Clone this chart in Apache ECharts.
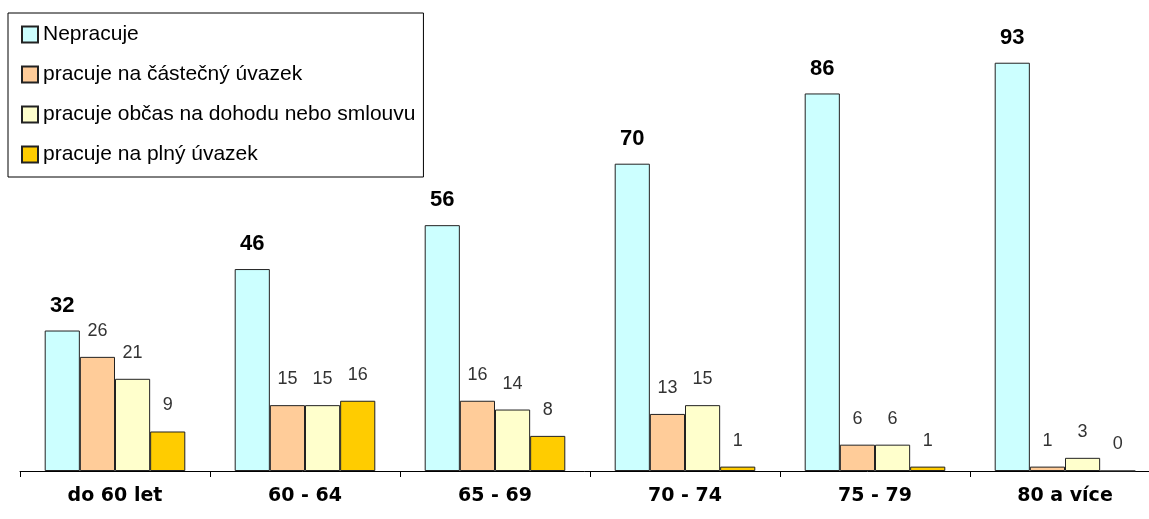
<!DOCTYPE html>
<html>
<head>
<meta charset="utf-8">
<script src="https://cdn.jsdelivr.net/npm/echarts@6/dist/echarts.min.js"></script>
<style>
  html, body { margin: 0; padding: 0; background: #fff; }
  #chart { width: 1149px; height: 519px; }
</style>
</head>
<body>
<div id="chart"></div>
<script>
const categories = ['do 60 let', '60 - 64', '65 - 69', '70 - 74', '75 - 79', '80 a více'];
const seriesNames = ['Nepracuje', 'pracuje na částečný úvazek', 'pracuje občas na dohodu nebo smlouvu', 'pracuje na plný úvazek'];
const nepracuje = [32, 46, 56, 70, 86, 93];
const castecny = [26, 15, 16, 13, 6, 1];
const obcas = [21, 15, 14, 15, 6, 3];
const plny = [9, 16, 8, 1, 1, 0];
const colors = ['#ccffff', '#ffcc99', '#ffffcc', '#ffcc00'];

const chart = echarts.init(document.getElementById('chart'));

const makeSeries = (name, data, color, bold) => ({
  name: name,
  type: 'bar',
  data: data,
  barGap: '0%',
  barCategoryGap: '26%',
  itemStyle: { color: color, borderColor: '#222', borderWidth: 1 },
  label: {
    show: true,
    position: 'top',
    distance: bold ? 14 : 17,
    fontFamily: 'Liberation Sans, Arial, sans-serif',
    fontSize: bold ? 22 : 18,
    fontWeight: bold ? 'bold' : 'normal',
    color: bold ? '#000' : '#333'
  }
});

chart.setOption({
  animation: false,
  grid: { left: 20, width: 1140, top: 32, bottom: 48, outerBoundsMode: 'none' },
  legend: {
    orient: 'vertical',
    left: 8,
    top: 13,
    padding: [11, 8, 12, 13],
    itemWidth: 16,
    itemHeight: 16,
    itemGap: 19,
    icon: 'rect',
    borderColor: '#000',
    borderWidth: 1,
    textStyle: {
      fontFamily: 'Liberation Sans, Arial, sans-serif',
      fontSize: 21,
      color: '#000'
    },
    data: seriesNames
  },
  xAxis: {
    type: 'category',
    data: categories,
    axisLine: { lineStyle: { color: '#000', width: 1 } },
    axisTick: { show: true, length: 6, inside: false, lineStyle: { color: '#000' } },
    axisLabel: {
      margin: 16,
      fontFamily: 'DejaVu Sans, sans-serif',
      fontSize: 19,
      fontWeight: 'bold',
      color: '#000'
    }
  },
  yAxis: {
    type: 'value',
    min: 0,
    max: 100,
    show: false,
    splitLine: { show: false }
  },
  series: [
    makeSeries(seriesNames[0], nepracuje, colors[0], true),
    makeSeries(seriesNames[1], castecny, colors[1], false),
    makeSeries(seriesNames[2], obcas, colors[2], false),
    makeSeries(seriesNames[3], plny, colors[3], false)
  ]
});
</script>
</body>
</html>
